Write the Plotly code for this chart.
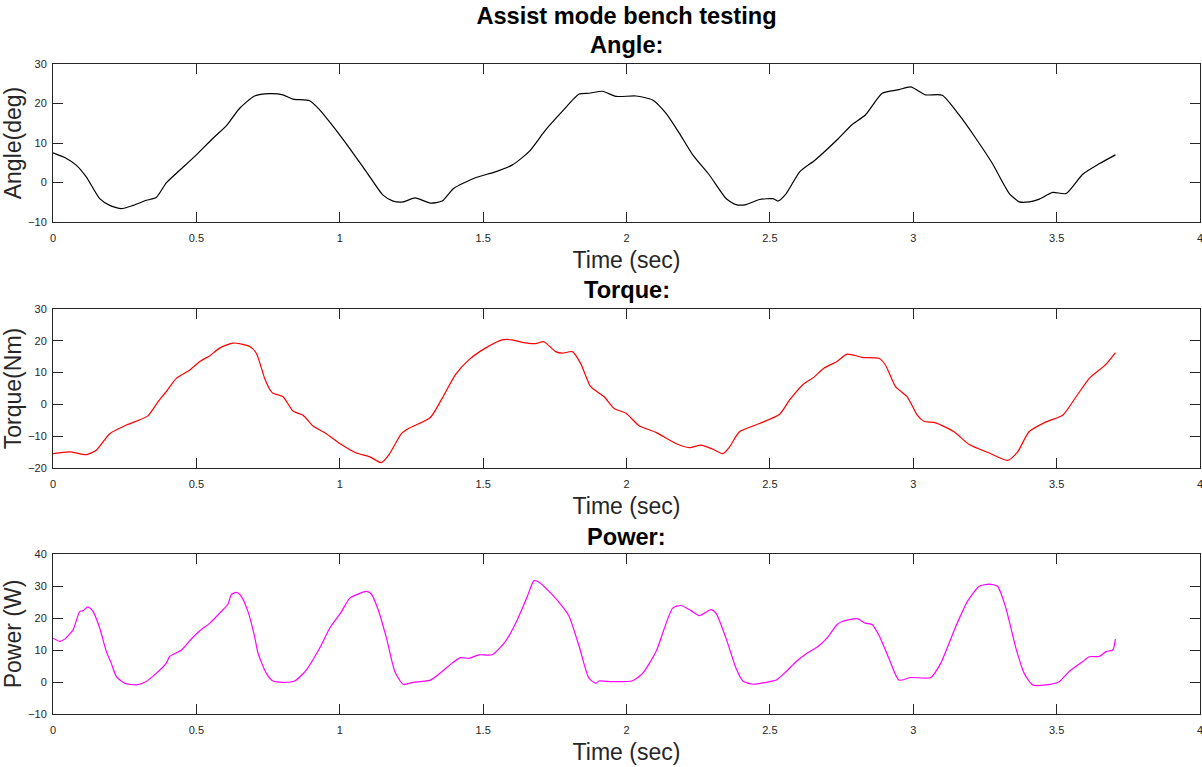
import plotly.graph_objects as go
from plotly.subplots import make_subplots

# ---- Data ----
angle_t = [0, 0.047, 0.081, 0.116, 0.163, 0.198, 0.238, 0.279, 0.326, 0.36, 0.395, 0.442, 0.5,
           0.558, 0.605, 0.651, 0.703, 0.756, 0.802, 0.837, 0.895, 0.93, 0.977, 1.035, 1.093,
           1.151, 1.186, 1.221, 1.263, 1.316, 1.357, 1.397, 1.473, 1.543, 1.601, 1.66, 1.718,
           1.776, 1.835, 1.87, 1.916, 1.963, 2.033, 2.091, 2.138, 2.184, 2.231, 2.289, 2.348,
           2.382, 2.417, 2.464, 2.511, 2.528, 2.557, 2.604, 2.658, 2.74, 2.787, 2.833, 2.892,
           2.95, 2.991, 3.043, 3.101, 3.16, 3.218, 3.276, 3.335, 3.37, 3.405, 3.44, 3.486,
           3.533, 3.591, 3.65, 3.705]
angle_deg = [7.5, 6.1, 4.4, 1.4, -4.1, -5.8, -6.6, -5.8, -4.5, -3.8, -0.1, 3.1, 7.0,
             11.2, 14.4, 18.8, 21.9, 22.5, 22.2, 21.1, 20.7, 18.4, 14.2, 8.6, 2.7,
             -3.2, -4.7, -4.9, -3.9, -5.2, -4.7, -1.5, 1.2, 2.7, 4.4, 7.8, 13.3,
             18.0, 22.4, 22.6, 23.1, 21.8, 21.9, 20.9, 17.5, 12.5, 7.0, 1.9, -4.1,
             -5.6, -5.6, -4.3, -4.1, -4.7, -2.8, 2.7, 5.7, 11.2, 14.7, 17.1, 22.6,
             23.5, 24.2, 22.2, 22.1, 17.1, 11.2, 4.8, -2.8, -4.9, -4.9, -4.2, -2.5,
             -2.8, 2.1, 4.8, 7.0]

torque_t = [0, 0.058, 0.116, 0.151, 0.198, 0.256, 0.331, 0.366, 0.395, 0.43, 0.477, 0.512,
            0.547, 0.581, 0.628, 0.686, 0.709, 0.738, 0.756, 0.767, 0.802, 0.837, 0.872,
            0.907, 0.953, 1.0, 1.058, 1.105, 1.145, 1.174, 1.215, 1.24, 1.316, 1.357,
            1.403, 1.45, 1.508, 1.566, 1.601, 1.636, 1.683, 1.712, 1.753, 1.776, 1.811,
            1.84, 1.875, 1.922, 1.957, 1.998, 2.044, 2.103, 2.172, 2.219, 2.26, 2.301,
            2.336, 2.359, 2.394, 2.464, 2.534, 2.569, 2.615, 2.653, 2.688, 2.734, 2.769,
            2.822, 2.88, 2.903, 2.938, 2.979, 3.014, 3.037, 3.078, 3.142, 3.195, 3.265,
            3.329, 3.364, 3.404, 3.463, 3.521, 3.568, 3.614, 3.672, 3.705]
torque_nm = [-15.5, -14.9, -15.8, -14.4, -9.2, -6.5, -3.6, 0.8, 4.0, 8.2, 10.8, 13.5,
             15.3, 17.7, 19.3, 18.2, 16.1, 8.2, 4.7, 3.5, 2.4, -2.1, -3.4,
             -6.8, -9.2, -12.3, -15.3, -16.5, -18.3, -15.5, -9.2, -7.6, -4.1, 1.9,
             9.3, 14.0, 17.7, 20.3, 20.3, 19.5, 19.1, 19.7, 16.6, 16.1, 16.6,
             12.9, 5.6, 2.4, -1.3, -2.8, -6.7, -8.8, -12.3, -13.6, -12.8, -14.1,
             -15.5, -13.4, -8.6, -6.0, -3.1, 1.4, 6.2, 8.5, 11.4, 13.5, 15.8,
             14.8, 14.5, 12.4, 5.6, 2.4, -3.4, -5.3, -5.8, -8.6, -12.6, -15.3,
             -17.6, -14.9, -8.6, -5.5, -3.4, 2.4, 8.2, 12.6, 16.3]

power_t = [0, 0.023, 0.041, 0.07, 0.093, 0.105, 0.122, 0.14, 0.163, 0.186, 0.203, 0.221,
           0.25, 0.291, 0.32, 0.36, 0.395, 0.407, 0.448, 0.477, 0.512, 0.547, 0.581, 0.61,
           0.622, 0.64, 0.657, 0.68, 0.703, 0.715, 0.744, 0.767, 0.802, 0.843, 0.884, 0.93,
           0.965, 1.006, 1.035, 1.07, 1.093, 1.11, 1.134, 1.163, 1.192, 1.221, 1.256, 1.316,
           1.357, 1.392, 1.421, 1.45, 1.485, 1.531, 1.578, 1.619, 1.654, 1.677, 1.695,
           1.741, 1.776, 1.8, 1.835, 1.869, 1.893, 1.904, 1.951, 2.021, 2.056, 2.103,
           2.161, 2.19, 2.225, 2.254, 2.295, 2.312, 2.347, 2.382, 2.406, 2.441, 2.487,
           2.522, 2.557, 2.592, 2.633, 2.668, 2.699, 2.734, 2.752, 2.804, 2.833, 2.857,
           2.88, 2.915, 2.95, 2.991, 3.061, 3.096, 3.148, 3.189, 3.23, 3.265, 3.294,
           3.323, 3.358, 3.387, 3.416, 3.463, 3.509, 3.544, 3.591, 3.614, 3.649, 3.672,
           3.696, 3.705]
power_w = [13.7, 12.7, 13.4, 16.3, 22.0, 22.3, 23.5, 22.0, 16.8, 9.5, 5.9, 1.7,
           -0.4, -0.9, -0.1, 2.7, 5.9, 8.0, 10.0, 12.9, 16.0, 18.4, 21.5, 24.3,
           27.3, 28.0, 26.7, 22.0, 14.2, 9.0, 2.7, 0.3, -0.1, 0.3, 3.8, 10.6,
           16.8, 22.0, 26.2, 27.7, 28.3, 27.5, 22.6, 13.7, 3.3, -0.7, -0.1, 0.6,
           3.3, 5.9, 7.6, 7.4, 8.5, 8.5, 12.7, 19.4, 26.7, 31.6, 31.2,
           27.3, 23.6, 20.5, 11.1, 1.2, -0.4, 0.3, 0.1, 0.4, 2.7, 9.5,
           23.1, 23.9, 22.3, 20.7, 22.6, 21.5, 13.7, 4.3, 0.3, -0.7, -0.1,
           0.6, 3.3, 6.4, 9.2, 11.1, 13.7, 17.9, 18.9, 19.8, 18.4, 17.9,
           14.7, 7.4, 0.6, 1.4, 1.4, 5.9, 17.3, 25.2, 29.9, 30.6, 29.9,
           23.1, 10.6, 2.7, -0.9, -0.9, 0.1, 3.3, 6.4, 7.9, 8.0, 9.5,
           10.0, 13.4]

x_ticks = [0, 0.5, 1, 1.5, 2, 2.5, 3, 3.5, 4]
x_tick_labels = ["0", "0.5", "1", "1.5", "2", "2.5", "3", "3.5", "4"]

# ---- Figure ----
H = 767
T, B = 64, 53
PH = H - T - B


def dom(top_px, bot_px):
    return [(H - B - bot_px) / PH, (H - B - top_px) / PH]


def py(p):
    return (H - B - p) / PH


fig = make_subplots(rows=3, cols=1)

fig.add_trace(go.Scatter(x=angle_t, y=angle_deg, mode="lines", line=dict(color="#000000", width=1.2, shape="spline", smoothing=0.6), showlegend=False), row=1, col=1)
fig.add_trace(go.Scatter(x=torque_t, y=torque_nm, mode="lines", line=dict(color="#FF0000", width=1.2, shape="spline", smoothing=0.6), showlegend=False), row=2, col=1)
fig.add_trace(go.Scatter(x=power_t, y=power_w, mode="lines", line=dict(color="#FF00FF", width=1.2, shape="spline", smoothing=0.6), showlegend=False), row=3, col=1)

font_family = "Liberation Sans, Arial, sans-serif"
axis_color = "#262626"
title_size = 23.6
axis_title_size = 23

common_x = dict(range=[0, 4], tickmode="array", tickvals=x_ticks, ticktext=x_tick_labels,
                ticks="inside", ticklen=10, tickwidth=1, tickcolor=axis_color,
                showline=True, linecolor=axis_color, linewidth=1, mirror="allticks",
                showgrid=False, zeroline=False, automargin=False,
                ticklabelstandoff=6, ticklabeloverflow="allow",
                tickfont=dict(family=font_family, size=11, color=axis_color),
                title=dict(text="Time (sec)", font=dict(family=font_family, size=axis_title_size, color=axis_color), standoff=8))
common_y = dict(ticks="inside", ticklen=10, tickwidth=1, tickcolor=axis_color, dtick=10,
                showline=True, linecolor=axis_color, linewidth=1, mirror="allticks",
                showgrid=False, zeroline=False, automargin=False,
                ticklabelstandoff=3,
                tickfont=dict(family=font_family, size=11, color=axis_color))

fig.update_layout(
    width=1202, height=767,
    margin=dict(l=53, r=2, t=T, b=B, autoexpand=False),
    paper_bgcolor="white", plot_bgcolor="white",
    title=dict(text="<b>Assist mode bench testing</b>", x=(53 + 1200) / 2 / 1202, xanchor="center",
               y=1 - 16 / 767, yanchor="middle", font=dict(family=font_family, size=title_size, color="#000000")),
    xaxis=dict(common_x, domain=[0, 1], anchor="y"),
    xaxis2=dict(common_x, domain=[0, 1], anchor="y2"),
    xaxis3=dict(common_x, domain=[0, 1], anchor="y3"),
    yaxis=dict(common_y, domain=dom(64, 222), range=[-10, 30], anchor="x",
               title=dict(text="Angle(deg)", font=dict(family=font_family, size=axis_title_size, color=axis_color), standoff=0)),
    yaxis2=dict(common_y, domain=dom(309, 468), range=[-20, 30], anchor="x2",
                title=dict(text="Torque(Nm)", font=dict(family=font_family, size=axis_title_size, color=axis_color), standoff=0)),
    yaxis3=dict(common_y, domain=dom(554, 714), range=[-10, 40], anchor="x3",
                title=dict(text="Power (W)", font=dict(family=font_family, size=axis_title_size, color=axis_color), standoff=0)),
)

for txt, ypx in [("Angle:", 45), ("Torque:", 290), ("Power:", 537)]:
    fig.add_annotation(text="<b>%s</b>" % txt, xref="paper", yref="paper", x=0.5, y=py(ypx),
                       xanchor="center", yanchor="middle", showarrow=False,
                       font=dict(family=font_family, size=title_size, color="#000000"))

fig.write_html("out.html", config={"displayModeBar": False},
               post_script="document.body.style.margin='0';document.body.style.overflow='hidden';"
                           "document.documentElement.style.overflow='hidden';")
